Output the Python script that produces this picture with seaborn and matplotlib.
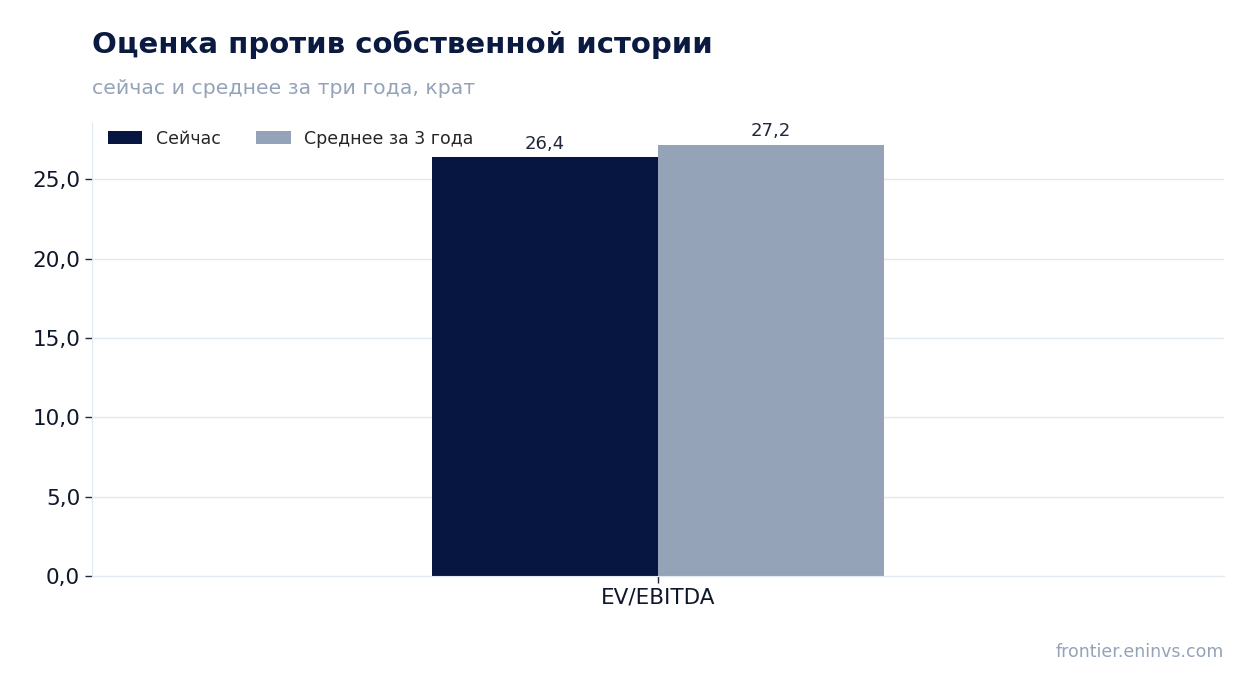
import pandas as pd
import matplotlib.pyplot as plt
import seaborn as sns
from matplotlib.ticker import FuncFormatter

# Data
metrics = ["EV/EBITDA"]
series_names = ["Сейчас", "Среднее за 3 года"]
now_values = [26.4]
avg3y_values = [27.2]
colors = ["#061641", "#94A3B8"]

df = pd.DataFrame({
    "metric": metrics * 2,
    "series": [series_names[0]] * len(metrics) + [series_names[1]] * len(metrics),
    "value": now_values + avg3y_values,
})

sns.set_style("white")
plt.rcParams["font.family"] = ["DejaVu Sans"]

fig = plt.figure(figsize=(12.54, 6.93), dpi=100)
ax = fig.add_axes([0.0734, 0.169, 0.9026, 0.6535])

sns.barplot(data=df, x="metric", y="value", hue="series", palette=colors,
            width=0.8, saturation=1, linewidth=0, ax=ax, legend=True)

for cont in ax.containers:
    ax.bar_label(cont, labels=[f"{v:.1f}".replace(".", ",") for v in cont.datavalues],
                 padding=3, fontsize=13, color="#1E293B")

ax.set_xlim(-1, 1)
ax.set_ylim(0, max(now_values + avg3y_values) * 1.05)
ax.yaxis.set_major_formatter(FuncFormatter(lambda v, p: f"{v:.1f}".replace(".", ",")))
ax.grid(axis="y", color="#E2E8F0", linewidth=1)
ax.set_axisbelow(True)
ax.set_xlabel("")
ax.set_ylabel("")
for s in ["top", "right"]:
    ax.spines[s].set_visible(False)
for s in ["left", "bottom"]:
    ax.spines[s].set_color("#E2E8F0")
ax.tick_params(axis="both", bottom=True, left=True, length=5, width=1,
               color="#1E293B", labelcolor="#0F172A", labelsize=15.5)

ax.legend(loc="upper left", ncol=2, frameon=False, fontsize=12.5,
          handlelength=2.0, handleheight=0.7, handletextpad=0.8,
          columnspacing=2.0, bbox_to_anchor=(0.0, 1.02))

fig.text(0.0734, 0.935, "Оценка против собственной истории", fontsize=21,
         fontweight="bold", color="#0B1A40", va="center")
fig.text(0.0734, 0.873, "сейчас и среднее за три года, крат", fontsize=14.7,
         color="#94A3B8", va="center")
fig.text(0.976, 0.059, "frontier.eninvs.com", fontsize=12.5, color="#94A3B8",
         ha="right", va="center")

fig.savefig("out.png", dpi=100)
